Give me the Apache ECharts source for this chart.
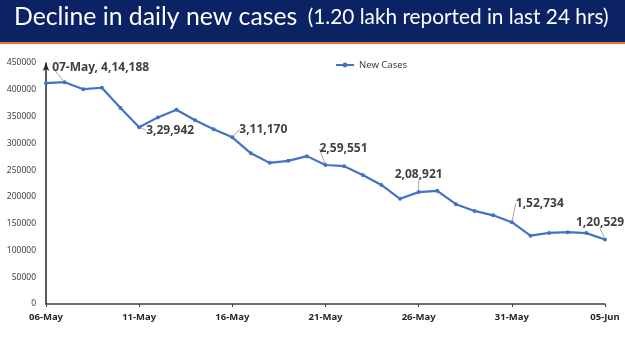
<!DOCTYPE html>
<html>
<head>
<meta charset="utf-8">
<script src="https://cdn.jsdelivr.net/npm/echarts@6/dist/echarts.min.js"></script>
<style>
  html, body { margin: 0; padding: 0; background: #fff; }
  #chart { width: 625px; height: 351px; }
</style>
</head>
<body>
<div id="chart"></div>
<script>
// daily new cases, 06-May to 05-Jun
const days = ['06-May','07-May','08-May','09-May','10-May','11-May','12-May','13-May','14-May','15-May',
  '16-May','17-May','18-May','19-May','20-May','21-May','22-May','23-May','24-May','25-May',
  '26-May','27-May','28-May','29-May','30-May','31-May','01-Jun','02-Jun','03-Jun','04-Jun','05-Jun']
const newCases = [412262, 414188, 401078, 403738, 366161, 329942, 348421, 362727, 343144, 326098,
  311170, 281386, 263533, 267334, 276110, 259551, 257299, 240842, 222315, 196427,
  208921, 211298, 186364, 173790, 165553, 152734, 127510, 132788, 134154, 132364, 120529]
const yTicks = [0, 50000, 100000, 150000, 200000, 250000, 300000, 350000, 400000, 450000]
// labelled points: index -> label text
const labelText = {1: '07-May, 4,14,188', 5: '3,29,942', 10: '3,11,170', 15: '2,59,551',
  20: '2,08,921', 25: '1,52,734', 30: '1,20,529'}
// label shifts from the default 'top' spot
const labelShift = {1: [36, -2], 5: [31, 16], 10: [31, 5], 15: [18, -3], 20: [0, -5], 25: [28, -6], 30: [-5, -4]}

const chart = echarts.init(document.getElementById('chart'))

const seriesData = newCases.map((v, i) => {
  if (labelText[i]) {
    return {
      value: v,
      label: { show: true, formatter: labelText[i] },
      labelLine: { show: true, lineStyle: { color: '#a6a6a6', width: 1 } }
    }
  }
  return v
})

chart.setOption({
  animation: false,
  graphic: [
    { type: 'rect', shape: { x: 0, y: 0, width: 625, height: 42 }, style: { fill: '#0b2264' }, z: 0 },
    { type: 'rect', shape: { x: 0, y: 42, width: 625, height: 2 }, style: { fill: '#e0783a' }, z: 0 },
    {
      type: 'text', left: 14, top: 5, z: 10,
      style: {
        text: '{a|Decline in daily new cases} {b|(1.20 lakh reported in last 24 hrs)}',
        rich: {
          a: { fontFamily: 'Lato', fontSize: 24.8, fill: '#fff', lineHeight: 31 },
          b: { fontFamily: 'Lato', fontSize: 20.8, fill: '#fff', lineHeight: 31, padding: [0, 0, 0, 7] }
        }
      }
    }
  ],
  legend: {
    top: 55, left: 330,
    itemWidth: 18, itemHeight: 6, itemGap: 4,
    textStyle: { fontSize: 9.5, color: '#404040', fontFamily: 'Noto Sans' },
    data: ['New Cases']
  },
  grid: { left: 46, right: 20, top: 63, bottom: 47 },
  xAxis: {
    type: 'category',
    data: days,
    boundaryGap: false,
    axisLine: { lineStyle: { color: '#404040', width: 1.5 } },
    axisTick: { interval: 4, length: 3, inside: false, lineStyle: { color: '#404040' } },
    axisLabel: { interval: 4, color: '#262626', fontWeight: 'bold', fontSize: 9.5, fontFamily: 'Noto Sans', margin: 8 }
  },
  yAxis: {
    type: 'value',
    min: yTicks[0],
    max: yTicks[yTicks.length - 1],
    interval: 50000,
    splitLine: { show: false },
    axisTick: { show: false },
    axisLine: { show: true, symbol: ['none', 'arrow'], symbolSize: [5, 8], lineStyle: { color: '#262626', width: 1.5 } },
    axisLabel: { color: '#404040', fontSize: 8.5, fontFamily: 'Noto Sans', margin: 10, formatter: v => String(v) }
  },
  series: [{
    name: 'New Cases',
    type: 'line',
    data: seriesData,
    symbol: 'circle',
    symbolSize: 4,
    lineStyle: { color: '#4472c4', width: 2.2 },
    itemStyle: { color: '#4472c4' },
    label: {
      show: false,
      position: 'top',
      color: '#404040',
      fontSize: 12,
      fontWeight: 'bold',
      fontFamily: 'Noto Sans'
    },
    labelLayout: function (p) {
      const s = labelShift[p.dataIndex]
      return s ? { dx: s[0], dy: s[1] } : {}
    }
  }]
})
</script>
</body>
</html>
